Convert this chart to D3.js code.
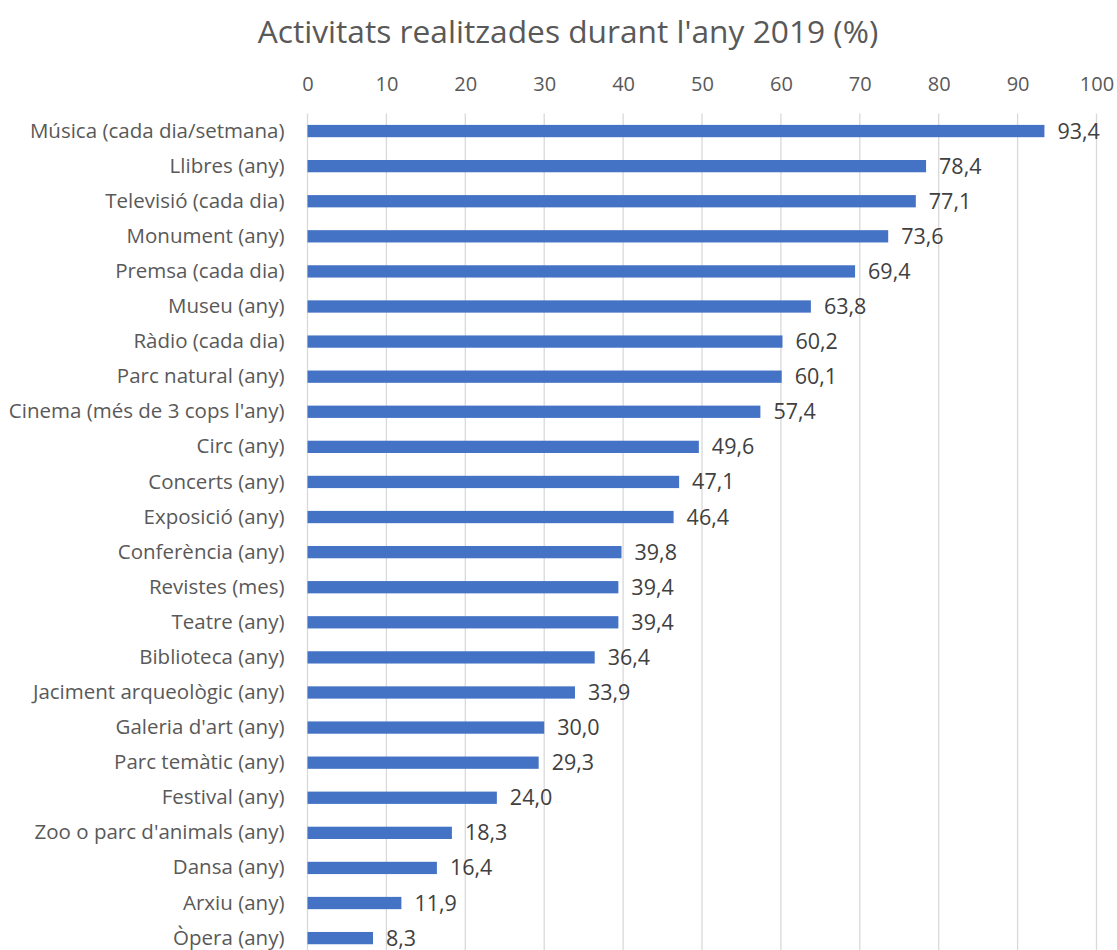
<!DOCTYPE html>
<html>
<head>
<meta charset="utf-8">
<script src="https://cdn.jsdelivr.net/npm/d3@7"></script>
<style>
  body { margin: 0; background: #fff; }
  text { font-family: "Open Sans", sans-serif; }
</style>
</head>
<body>
<div id="chart-area"></div>
<script>
// activitats culturals 2019
var categories = ["Música (cada dia/setmana)", "Llibres (any)", "Televisió (cada dia)", "Monument (any)",
  "Premsa (cada dia)", "Museu (any)", "Ràdio (cada dia)", "Parc natural (any)", "Cinema (més de 3 cops l'any)",
  "Circ (any)", "Concerts (any)", "Exposició (any)", "Conferència (any)", "Revistes (mes)", "Teatre (any)",
  "Biblioteca (any)", "Jaciment arqueològic (any)", "Galeria d'art (any)", "Parc temàtic (any)",
  "Festival (any)", "Zoo o parc d'animals (any)", "Dansa (any)", "Arxiu (any)", "Òpera (any)"];
var values = [93.4, 78.4, 77.1, 73.6, 69.4, 63.8, 60.2, 60.1, 57.4, 49.6, 47.1, 46.4, 39.8, 39.4, 39.4,
  36.4, 33.9, 30.0, 29.3, 24.0, 18.3, 16.4, 11.9, 8.3];
var ticks = [0, 10, 20, 30, 40, 50, 60, 70, 80, 90, 100];

var W = 1117, H = 950;
var margin = {left: 307.5, right: 20.5, top: 113.5, bottom: 0};

var svg = d3.select("#chart-area")
  .append("svg")
    .attr("width", W)
    .attr("height", H);

var x = d3.scaleLinear()
  .domain([0, 100])
  .range([margin.left, W - margin.right]);

var y = d3.scaleBand()
  .domain(categories)
  .range([margin.top, margin.top + 24 * 35.09])
  .paddingInner(0.65)
  .paddingOuter(0.325);

// title
svg.append("text")
  .attr("x", 568)
  .attr("y", 43)
  .attr("text-anchor", "middle")
  .attr("font-size", "31.7px")
  .attr("fill", "#595959")
  .text("Activitats realitzades durant l'any 2019 (%)");

// gridlines
svg.append("g")
  .selectAll("line")
  .data(ticks)
  .enter().append("line")
    .attr("x1", function(d) { return x(d); })
    .attr("x2", function(d) { return x(d); })
    .attr("y1", margin.top)
    .attr("y2", H)
    .attr("stroke", "#d9d9d9")
    .attr("stroke-width", 1.3);

// top axis
var xAxis = d3.axisTop(x).tickValues(ticks).tickSize(0).tickPadding(0);
var gx = svg.append("g")
  .attr("transform", "translate(0," + 91 + ")")
  .call(xAxis);
gx.select(".domain").remove();
gx.selectAll("text")
  .attr("font-family", "'Open Sans', sans-serif")
  .attr("font-size", "20px")
  .attr("fill", "#595959");

// category labels
var yAxis = d3.axisLeft(y).tickSize(0).tickPadding(23);
var gy = svg.append("g")
  .attr("transform", "translate(" + margin.left + ",0)")
  .call(yAxis);
gy.select(".domain").remove();
gy.selectAll("text")
  .attr("font-family", "'Open Sans', sans-serif")
  .attr("font-size", "20.5px")
  .attr("fill", "#595959");

// bars
svg.append("g")
  .selectAll("rect")
  .data(values)
  .enter().append("rect")
    .attr("x", x(0))
    .attr("y", function(d, i) { return y(categories[i]); })
    .attr("width", function(d) { return x(d) - x(0); })
    .attr("height", y.bandwidth())
    .attr("fill", "#4472c4");

// value labels
var fmt = function(d) { return d.toFixed(1).replace(".", ","); };
svg.append("g")
  .selectAll("text")
  .data(values)
  .enter().append("text")
    .attr("x", function(d) { return x(d) + 13; })
    .attr("y", function(d, i) { return y(categories[i]) + y.bandwidth() / 2; })
    .attr("dy", "0.35em")
    .attr("font-size", "21.5px")
    .attr("fill", "#404040")
    .text(fmt);
</script>
</body>
</html>
